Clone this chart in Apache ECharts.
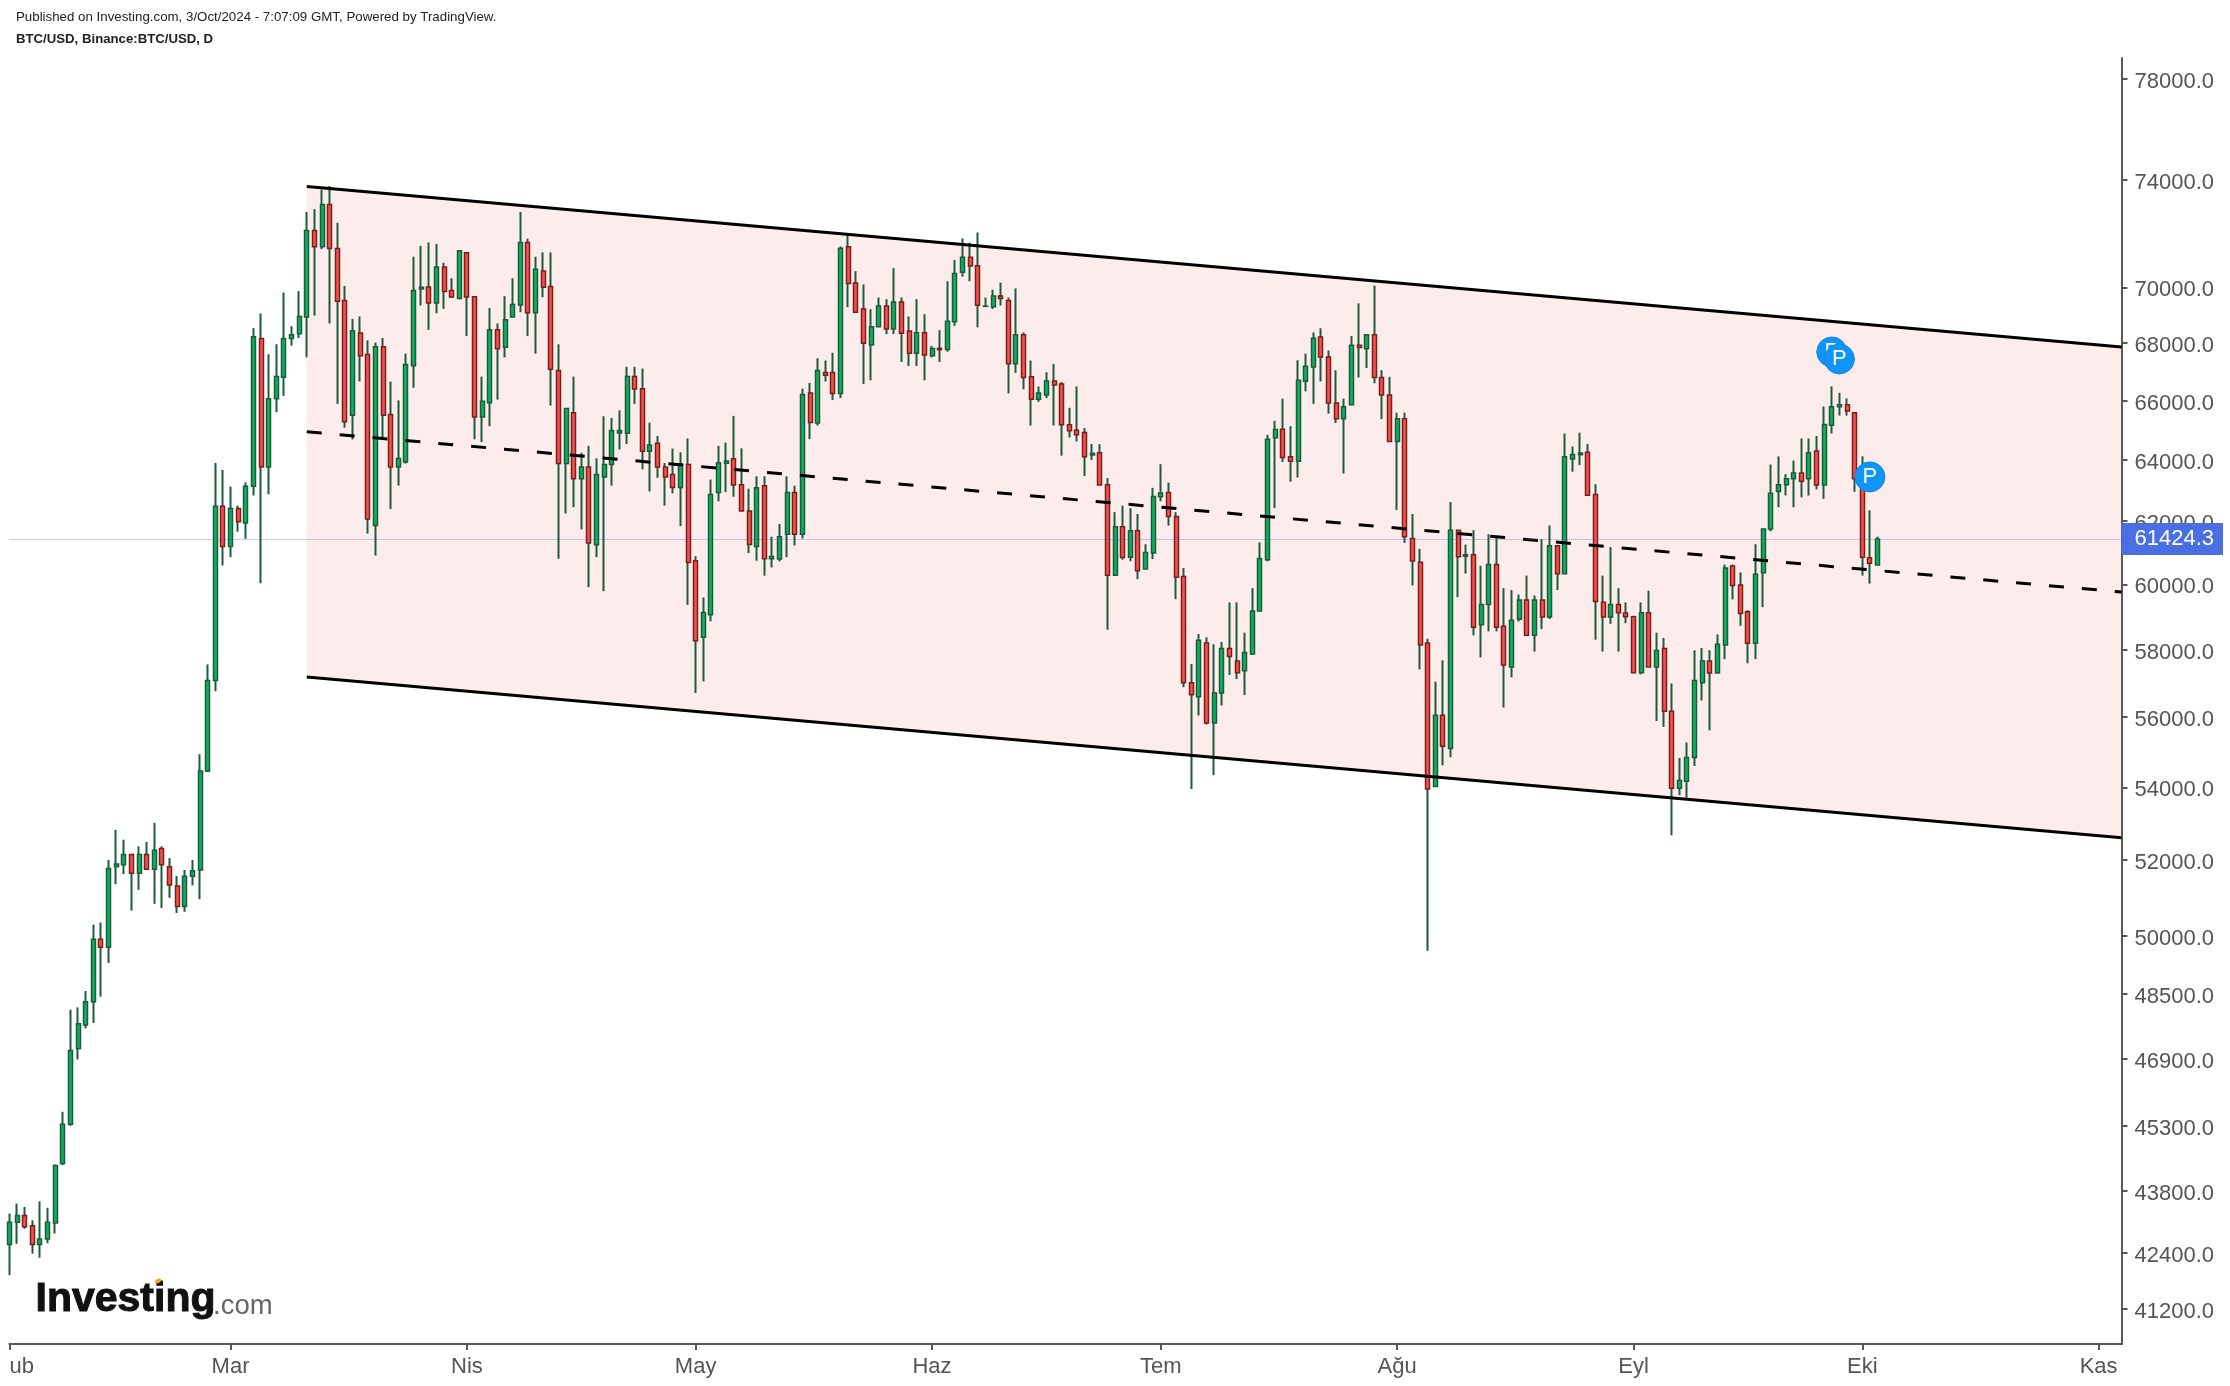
<!DOCTYPE html>
<html>
<head>
<meta charset="utf-8">
<title>BTC/USD</title>
<script src="https://cdn.jsdelivr.net/npm/echarts@6/dist/echarts.min.js"></script>
<style>
html, body { margin: 0; padding: 0; background: #fff; }
#chart { width: 2230px; height: 1386px; }
</style>
</head>
<body>
<div id="chart"></div>
<script>
// daily candles from 1 Feb 2024
var openPrice = [
  42590,43085,43235,43009,42590,42715,43072,44420,45335,47150,
  47730,48310,49905,49695,51820,51870,52150,51640,52150,51750,
  52310,51820,51300,50760,51560,51730,54460,57080,62480,61185,
  62410,61940,63130,68160,63765,66067,66810,68160,68335,68925,
  72090,71490,73075,71420,69520,65500,68360,67600,61860,67870,
  65530,63765,63930,67210,69940,70015,69430,70745,69880,69590,
  71270,69660,65440,65925,68470,67855,68925,69360,71650,69080,
  70590,70030,67040,63880,65590,63380,63765,61245,63435,63845,
  64900,64890,66830,66410,64290,64560,63765,63520,63095,63845,
  60735,58375,59060,62930,63890,64040,63180,62330,61190,63150,
  60800,60790,61580,62930,61580,66260,65240,66970,66970,66245,
  71490,70160,69220,67935,68580,69320,68500,69470,68430,67640,
  68370,67555,67815,67780,68760,70550,71100,70790,69310,69300,
  69680,69520,67280,68300,66820,66045,66190,66680,66570,65180,
  64990,64920,64165,64240,63180,60280,61820,60850,61690,60480,
  60980,62790,62930,62145,60240,57010,56600,58200,55830,56710,
  58030,57660,57370,57870,59170,60765,64745,65030,64110,63960,
  66670,67160,68220,67510,65920,65380,65860,67930,67800,68300,
  66800,66190,64615,65380,61440,60690,58200,54020,56060,55100,
  61710,60880,60930,58750,59370,60620,58710,57480,58920,59510,
  58430,59510,58990,61210,60330,64035,64170,64260,62860,59440,
  58990,59370,59110,59000,57310,59120,57480,58030,56170,53970,
  54170,54840,57010,57660,57300,58140,60570,59980,59150,58190,
  60360,61750,62960,63180,63380,63570,63380,64300,63170,65160,
  65790,65860,65590,63380,60830,60600
];
var closePrice = [
  43085,43235,42986,42590,42715,43085,44376,45335,47105,47760,
  48310,49905,49695,51770,51890,52150,51640,52150,51750,52265,
  51870,51330,50760,51560,51710,54460,57080,62480,61185,62410,
  61980,63130,68224,63765,66067,66830,68160,68300,68950,72090,
  71490,73075,71420,69498,65285,68440,67560,62070,67870,65500,
  63765,64045,67250,69880,70005,69430,70745,69850,69650,71340,
  69650,65440,65980,68470,67805,68830,69380,71650,69080,70660,
  70005,67085,63880,65730,63380,63765,61300,63520,63845,64985,
  64985,66830,66400,64290,64500,63765,63435,63095,63845,60680,
  58265,59130,62860,63910,63965,63170,62330,61250,63080,60800,
  60875,61500,62930,61580,66210,65260,67040,66880,66245,71430,
  70140,69100,67995,68585,69320,68500,69470,68350,67640,68370,
  67580,67815,67770,68780,70500,71100,70780,69350,69320,69680,
  69590,67280,68300,66800,66045,66265,66680,66540,65180,64980,
  64840,64110,64220,63170,60280,61820,60840,61690,60420,61000,
  62800,62910,62145,60220,57010,56660,58280,55830,56710,58030,
  57790,57310,57910,59170,60810,64695,65020,64080,63960,66700,
  67190,68170,67510,65920,65380,65790,67930,67850,68300,66800,
  66190,64615,65380,61500,60730,58140,53950,56060,55160,61710,
  60860,60930,58680,59370,60620,58680,57540,58890,59510,58430,
  59510,58990,61210,60330,64110,64180,64230,62840,59470,58990,
  59370,59120,59000,57310,59120,57480,57970,56170,53970,54190,
  54840,57080,57660,57300,58160,60510,59965,59100,58190,60310,
  61750,62900,63180,63380,63570,63300,64240,63170,65190,65790,
  65860,65650,63380,60850,60660,61424.3
];
var lowPrice = [
  41920,42607,42940,42390,42300,42620,42835,44380,45300,46885,
  47650,47780,48440,49295,51350,51620,50650,51200,51750,50830,
  50720,50990,50590,50620,51320,50950,54430,56760,60590,60850,
  61660,61430,62830,60035,62870,65605,66165,67910,68180,67500,
  68980,71400,68700,65890,65080,64685,66660,61600,60900,64740,
  62390,63150,63880,66440,69340,68470,69060,69220,69620,69570,
  68250,64690,64600,65130,66035,67500,68925,69100,68250,67630,
  69640,65830,60800,62245,62450,61730,59910,60850,59785,63150,
  64345,64530,65890,63690,62960,63410,62500,62900,61840,59365,
  56710,57050,58860,62640,62940,62790,62330,60980,60740,60270,
  60525,60715,60850,61220,61440,64695,65150,66660,66020,66090,
  69285,69100,66570,66700,68580,68320,68320,67340,67200,67200,
  66700,67500,67340,67700,68610,70390,70220,68560,69300,69220,
  69340,66250,66960,66390,65155,65960,66090,65155,64140,64750,
  64615,63470,64000,63170,58600,60280,60770,60720,60160,60480,
  60790,62640,61855,59540,56880,53950,56050,55790,54340,56340,
  57240,57120,56650,57845,59170,60720,62420,63930,63280,63420,
  66320,65890,66660,65555,65240,63550,65850,66800,67130,66600,
  65370,64615,62360,61300,59960,57410,49610,54020,54620,54850,
  59600,60330,58430,57765,58550,58550,56280,57170,58850,58430,
  57940,58620,58930,59820,60330,63610,63830,62840,58300,57940,
  58780,57940,58800,57310,57260,57480,55890,55720,52670,53780,
  53710,54600,56490,55620,57300,57715,59530,58720,57590,57715,
  59290,61670,62450,62830,62450,62770,62830,63030,62720,64885,
  65490,65490,62950,60270,60020,60600
];
var highPrice = [
  43280,43506,43430,43130,43556,43410,44400,45630,48110,48170,
  48580,50283,50340,52000,52820,52550,52150,52370,52490,53010,
  52370,52050,51570,51730,52000,54935,57556,63900,63670,63120,
  62500,63260,68530,69050,67610,67960,69810,68600,69860,72790,
  72900,73640,73780,72385,70050,68860,68950,68100,68020,68180,
  66660,66010,67630,71120,71520,71650,71590,70900,70330,71370,
  71270,69660,66830,69250,68700,69680,70330,72790,71790,71120,
  71280,71280,67960,65730,66830,64240,64470,64055,65470,65410,
  65670,67170,67170,67110,65250,64800,63900,64380,64255,64720,
  60880,59590,63350,64470,64580,65480,64390,63050,63460,63460,
  61500,61910,63460,63150,66410,66610,67470,67390,67660,71500,
  71920,70590,70105,69210,69630,69570,70700,69630,68950,69570,
  69030,67900,68460,70220,71000,71800,71640,72020,69630,69910,
  70170,69630,69960,68380,67390,66490,66980,67270,66640,65755,
  66490,65065,64535,64525,63400,62290,62500,62420,62230,61260,
  63080,63860,63250,62290,60510,57570,58470,58370,58160,58230,
  59440,59440,58510,59880,61320,64840,65310,66070,65130,67400,
  67630,68380,68530,67740,67050,66070,68250,69420,68300,70060,
  67050,66820,65590,65590,62230,61115,58330,57040,57680,62620,
  61710,61250,61710,60580,61580,61470,59880,59820,59680,60270,
  59650,61420,61860,61210,64880,64450,64910,64530,63200,60270,
  61170,59880,59440,59030,59440,59800,58510,58350,56990,54830,
  55270,57980,58050,57980,58460,60620,60620,60370,59200,61260,
  61750,63850,64120,63530,63980,64720,64720,64800,65800,66490,
  66270,66080,65590,64120,62350,61500
];
var lastPrice = 61424.3;

// y axis ticks
var priceTicks = [78000,74000,70000,68000,66000,64000,62000,60000,58000,56000,54000,52000,50000,48500,46900,45300,43800,42400,41200];

// x axis: day number -> month label
var monthIdx = [0,29,60,90,121,151,182,213,243,274];
var monthLabels = ['ub','Mar','Nis','May','Haz','Tem','Ağu','Eyl','Eki','Kas'];
var dayCount = 278;

// channel drawn on the chart
var channelX = [39,277];
var channelUpper = [73763,67864];
var channelMiddle = [64942,59759];
var channelLower = [57179,52603];

// the P markers, the first one sits behind the second
var pinIdx = [239,240,244];
var pinPrice = [67690,67442,63439];

var days = [];
for (var i = 0; i < dayCount; i++) days.push('d' + i);

var wickData = [], bodyData = [];
for (var j = 0; j < openPrice.length; j++) {
  wickData.push([openPrice[j], closePrice[j], lowPrice[j], highPrice[j]]);
  // body only, no wick: low/high are the body edges
  bodyData.push([openPrice[j], closePrice[j], Math.min(openPrice[j], closePrice[j]), Math.max(openPrice[j], closePrice[j])]);
}

function twoPoints(values) {
  return [[channelX[0], values[0]], [channelX[1], values[1]]];
}

function pinSeries(from, to, z) {
  var pts = [];
  for (var k = from; k < to; k++) pts.push([pinIdx[k], pinPrice[k]]);
  return {
    type: 'scatter',
    silent: true,
    z: z,
    data: pts,
    symbolSize: 30,
    itemStyle: { color: '#0e95f7', borderColor: '#1a86e0', borderWidth: 1, opacity: 1 },
    label: { show: true, position: 'inside', formatter: 'P', color: '#fff', fontSize: 22 }
  };
}

var axisColor = '#595959';
var textColor = '#555555';
var fontName = '"Liberation Sans", Arial, sans-serif';
var wickColor = '#1d5c3a';

var chart = echarts.init(document.getElementById('chart'), null, { renderer: 'canvas' });

chart.setOption({
  animation: false,
  backgroundColor: '#fff',
  textStyle: { fontFamily: fontName },
  grid: { left: 9.4, right: 108.5, top: 58, bottom: 42 },
  xAxis: {
    type: 'category',
    data: days,
    boundaryGap: false,
    axisLine: { lineStyle: { color: axisColor, width: 2 } },
    axisTick: {
      length: 6,
      alignWithLabel: true,
      lineStyle: { color: axisColor, width: 2 },
      interval: function (idx) { return monthIdx.indexOf(idx) >= 0; }
    },
    axisLabel: {
      color: textColor,
      fontSize: 22,
      margin: 12,
      alignMinLabel: 'left',
      interval: function (idx) { return monthIdx.indexOf(idx) >= 0; },
      formatter: function (v, idx) { return monthLabels[monthIdx.indexOf(idx)]; }
    },
    splitLine: { show: false }
  },
  yAxis: {
    type: 'log',
    logBase: 10,
    position: 'right',
    min: 40448,
    max: 78847,
    axisLine: { show: true, lineStyle: { color: axisColor, width: 2 } },
    axisTick: { show: true, length: 6, lineStyle: { color: axisColor, width: 2 }, customValues: priceTicks },
    axisLabel: {
      color: textColor,
      fontSize: 22,
      margin: 13,
      verticalAlign: 'top',
      lineHeight: 6,
      customValues: priceTicks,
      formatter: function (v) { return Number(v).toFixed(1); }
    },
    splitLine: { show: false },
    minorTick: { show: false },
    minorSplitLine: { show: false }
  },
  series: [
    {
      // wicks are dark green on every candle
      type: 'candlestick',
      data: wickData,
      barWidth: 1,
      clip: false,
      silent: true,
      itemStyle: { color: wickColor, color0: wickColor, borderColor: wickColor, borderColor0: wickColor, borderColorDoji: wickColor, borderWidth: 2 }
    },
    {
      type: 'candlestick',
      data: bodyData,
      barWidth: 4.5,
      clip: false,
      silent: true,
      itemStyle: { color: '#0cb060', color0: '#f4524a', borderColor: '#1d5c3a', borderColor0: '#7a1f1f', borderWidth: 1.5 },
      markLine: {
        silent: true,
        symbol: 'none',
        animation: false,
        data: [{ yAxis: lastPrice }],
        lineStyle: { color: 'rgba(74,90,227,0.6)', width: 1, type: 'dotted' },
        label: {
          position: 'end',
          distance: 0,
          formatter: String(lastPrice),
          color: '#fff',
          fontSize: 22,
          backgroundColor: '#4a6fe3',
          padding: [6, 9, 4, 13]
        }
      }
    },
    {
      // channel fill, sits over the candles
      type: 'custom',
      silent: true,
      data: [0],
      renderItem: function (params, api) {
        var pts = [
          api.coord([channelX[0], channelUpper[0]]),
          api.coord([channelX[1], channelUpper[1]]),
          api.coord([channelX[1], channelLower[1]]),
          api.coord([channelX[0], channelLower[0]])
        ];
        return { type: 'polygon', shape: { points: pts }, style: { fill: 'rgba(230,45,45,0.09)' } };
      }
    },
    {
      type: 'line', data: twoPoints(channelUpper), showSymbol: false, silent: true,
      lineStyle: { color: '#000', width: 3 }
    },
    {
      type: 'line', data: twoPoints(channelLower), showSymbol: false, silent: true,
      lineStyle: { color: '#000', width: 3 }
    },
    {
      type: 'line', data: twoPoints(channelMiddle), showSymbol: false, silent: true,
      lineStyle: { color: '#000', width: 3, type: [15, 18] }
    },
    pinSeries(0, 1, 3),
    pinSeries(1, 3, 4)
  ],
  graphic: [
    { type: 'text', left: 16, top: 11, style: { text: 'Published on Investing.com, 3/Oct/2024 - 7:07:09 GMT, Powered by TradingView.', fill: '#222', font: '13.3px "Liberation Sans"' } },
    { type: 'text', left: 16, top: 33, style: { text: 'BTC/USD, Binance:BTC/USD, D', fill: '#222', font: 'bold 13.2px "Liberation Sans"' } },
    { type: 'text', left: 35, top: 1279, style: { text: 'Investing', fill: '#111', stroke: '#111', lineWidth: 1, font: 'bold 41px "Liberation Sans"' } },
    { type: 'text', left: 213, top: 1292, style: { text: '.com', fill: '#666', font: '27.5px "Liberation Sans"' } },
    { type: 'ellipse', shape: { cx: 158, cy: 1281, rx: 3.5, ry: 2 }, rotation: 0.5, originX: 158, originY: 1281, style: { fill: '#f5a623' } }
  ]
});
</script>
</body>
</html>
